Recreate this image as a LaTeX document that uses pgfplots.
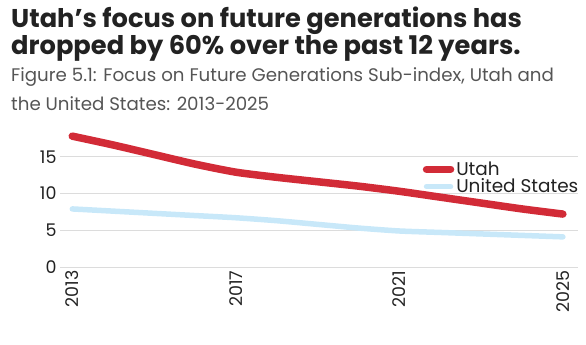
\documentclass[border=0pt]{standalone}
\usepackage{pgfplots}
\pgfplotsset{compat=1.18}
\usepackage{fontspec}
\setmainfont{Poppins}
\definecolor{utahred}{HTML}{D22B37}
\definecolor{usblue}{HTML}{C8E8F9}
\definecolor{gridgray}{HTML}{DCDCDC}
\definecolor{txt}{HTML}{222222}
\definecolor{subtxt}{HTML}{555555}
\begin{document}
\begin{tikzpicture}[x=1bp,y=1bp]
\useasboundingbox (-60,-77) rectangle (526,267);
\node[anchor=base west,inner sep=0,text=txt,font=\fontsize{25.8}{30}\selectfont\bfseries] at (-49,240) {Utah’s focus on future generations has};
\node[anchor=base west,inner sep=0,text=txt,font=\fontsize{25.8}{30}\selectfont\bfseries] at (-49,213) {dropped by 60\% over the past 12 years.};
\node[anchor=base west,inner sep=0,text=subtxt,font=\fontsize{18.3}{22}\selectfont] at (-49,186) {Figure 5.1: Focus on Future Generations Sub-index, Utah and};
\node[anchor=base west,inner sep=0,text=subtxt,font=\fontsize{18.3}{22}\selectfont] at (-49,157) {the United States: 2013-2025};
\begin{axis}[
  at={(0,0)}, anchor=south west,
  scale only axis, width=518bp, height=136bp,
  xmin=2012.7, xmax=2025.37, ymin=0, ymax=18.5,
  axis line style={draw=none},
  xtick={2013,2017,2021,2025},
  ytick={0,5,10,15},
  xticklabel style={rotate=90, anchor=east, font=\fontsize{17.5}{20}\selectfont, text=txt},
  yticklabel style={font=\fontsize{17.5}{20}\selectfont, text=txt},
  /pgf/number format/assume math mode=true,
  xticklabel={\pgfmathprintnumber[fixed,1000 sep={}]{\tick}},
  major tick length=0pt,
  ymajorgrids, grid style={gridgray, line width=1pt},
  clip=true,
  legend style={at={(0.70,0.79)}, anchor=north west, draw=none, fill=none,
    font=\fontsize{18.5}{18}\selectfont, text=txt, row sep=-2bp, inner sep=0pt},
  legend cell align=left,
  legend image code/.code={\draw[#1, line cap=round] (0bp,0bp) -- (24bp,0bp);},
]
\addplot[utahred, line width=7.5bp, line cap=round, smooth, tension=0.4] coordinates {
 (2013,17.8) (2014,16.6) (2015,15.3) (2016,14.0) (2017,12.9) (2018,12.2) (2019,11.6) (2020,11.0) (2021,10.3) (2022,9.5) (2023,8.7) (2024,7.9) (2025,7.2)};
\addlegendentry{Utah}
\addplot[usblue, line width=5.5bp, line cap=round, smooth, tension=0.4] coordinates {
 (2013,7.9) (2014,7.6) (2015,7.3) (2016,7.0) (2017,6.7) (2018,6.3) (2019,5.8) (2020,5.3) (2021,4.9) (2022,4.7) (2023,4.5) (2024,4.3) (2025,4.1)};
\addlegendentry{United States}
\end{axis}
\end{tikzpicture}
\end{document}
